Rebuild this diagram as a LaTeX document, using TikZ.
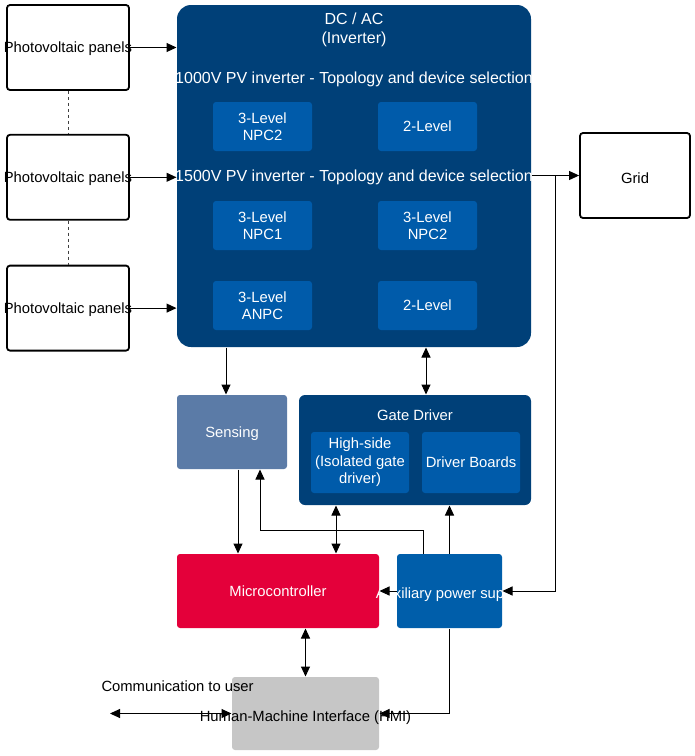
\documentclass[tikz,border=0pt]{standalone}
\usepackage{fontspec}
\setmainfont{Liberation Sans}
\usetikzlibrary{positioning,arrows.meta}
\definecolor{invblue}{HTML}{004078}
\definecolor{lvlblue}{HTML}{005BAA}
\definecolor{sensblue}{HTML}{5B7BA7}
\definecolor{mcured}{HTML}{E4003A}
\definecolor{auxblue}{HTML}{005EAA}
\definecolor{hmigray}{HTML}{C6C6C6}
\begin{document}
\begin{tikzpicture}[x=1pt,y=-1pt,
font=\fontsize{14.8}{17.5}\selectfont,
>={Triangle[length=10pt,width=9pt]},
line width=1pt,
pvnode/.style={rectangle, draw=black, line width=1.8pt, rounded corners=3pt, fill=white, minimum width=122pt, minimum height=85pt, inner sep=0pt},
fillnode/.style={rectangle, fill=#1, rounded corners=3pt, text=white, align=center, inner sep=0pt},
lvlnode/.style={fillnode=lvlblue, minimum width=99pt, minimum height=49pt},
titlenode/.style={text=white, align=center, inner sep=0pt, font=\fontsize{16}{19}\selectfont},
]
\useasboundingbox (0,0) rectangle (695,756);
%Nodes
\node[pvnode, label={[yshift=-1.5pt]center:Photovoltaic panels}] (pvA) at (68,47.5) {};
\node[pvnode, label={[yshift=-1.5pt]center:Photovoltaic panels}] (pvB) [below=43pt of pvA] {};
\node[pvnode, label={[yshift=-1.5pt]center:Photovoltaic panels}] (pvC) [below=44pt of pvB] {};

\node[fillnode=invblue, rounded corners=14pt, minimum width=354pt, minimum height=342pt] (inv) at (354,176) {};
\node[titlenode] (invT) at (354,30) {DC / AC\\(Inverter)};
\node[titlenode] (topoA) at (354,79) {1000V PV inverter - Topology and device selection};
\node[titlenode] (topoB) at (354,177) {1500V PV inverter - Topology and device selection};
\node[lvlnode] (npcA) at (262.5,126.5) {3-Level\\NPC2};
\node[lvlnode] (twoA) [right=65pt of npcA] {2-Level};
\node[lvlnode] (npcB) [below=49pt of npcA] {3-Level\\NPC1};
\node[lvlnode] (npcC) [right=65pt of npcB] {3-Level\\NPC2};
\node[lvlnode] (anpc) [below=30pt of npcB] {3-Level\\ANPC};
\node[lvlnode] (twoB) [right=65pt of anpc] {2-Level};

\node[pvnode, minimum width=110pt, label={[yshift=-3pt]center:Grid}] (grid) at (635,175.5) {};

\node[fillnode=sensblue, minimum width=110pt, minimum height=74pt, label={[text=white, yshift=-2pt]center:Sensing}] (sens) at (232,432) {};
\node[fillnode=invblue, rounded corners=6pt, minimum width=232pt, minimum height=110pt] (gd) at (415,450) {};
\node[text=white, inner sep=0pt] (gdT) at (415,415) {Gate Driver};
\node[lvlnode, minimum width=98pt, minimum height=61pt] (hs) at (360,462.5) {High-side\\(Isolated gate\\driver)};
\node[lvlnode, minimum width=98pt, minimum height=61pt] (db) [right=12pt of hs] {Driver Boards};

\node[fillnode=mcured, minimum width=202pt, minimum height=74pt] (mcu) at (278,591) {Microcontroller};
\node[fillnode=auxblue, minimum width=105pt, minimum height=74pt, label={[text=white, yshift=-4pt]center:Auxiliary power supply}] (aux) [right=17pt of mcu] {};
\node[fillnode=hmigray, minimum width=147pt, minimum height=73pt, label={[text=black, yshift=-4pt]center:Human-Machine Interface (HMI)}] (hmi) at (305.5,713.5) {};
\node[anchor=west, inner sep=0pt] (comm) at (101,686) {Communication to user};
\coordinate (user) at (110,713.5);

%Lines
\draw[dashed, black!75] (pvA.south) -- (pvB.north);
\draw[dashed, black!75] (pvB.south) -- (pvC.north);
\draw[->] (pvA.east) -- (pvA.east -| inv.west);
\draw[->] (pvB.east) -- (pvB.east -| inv.west);
\draw[->] (pvC.east) -- (pvC.east -| inv.west);
\draw[->] (grid.west -| inv.east) -- (grid.west);
\coordinate (tap) at ([xshift=-24pt]grid.west);
\draw[->] (tap) |- (aux.east);
\draw[->] ([xshift=-6pt]sens.north |- inv.south) -- ([xshift=-6pt]sens.north);
\draw[<->] ([xshift=11pt]gd.north |- inv.south) -- ([xshift=11pt]gd.north);
\draw[->] ([xshift=6pt]sens.south) -- ([xshift=6pt]sens.south |- mcu.north);
\draw[->] ([xshift=-26pt]aux.north) -- ++(0,-23) -| ([xshift=28pt]sens.south);
\draw[<->] ([xshift=-24pt]hs.center |- gd.south) -- ([xshift=-24pt]hs.center |- mcu.north);
\draw[->] (aux.north) -- (aux.north |- gd.south);
\draw[->] (aux.west) -- (mcu.east);
\draw[<->] (hmi.north |- mcu.south) -- (hmi.north);
\draw[->] (aux.south) |- (hmi.east);
\draw[<->] (user |- hmi.west) -- (hmi.west);
\end{tikzpicture}
\end{document}
